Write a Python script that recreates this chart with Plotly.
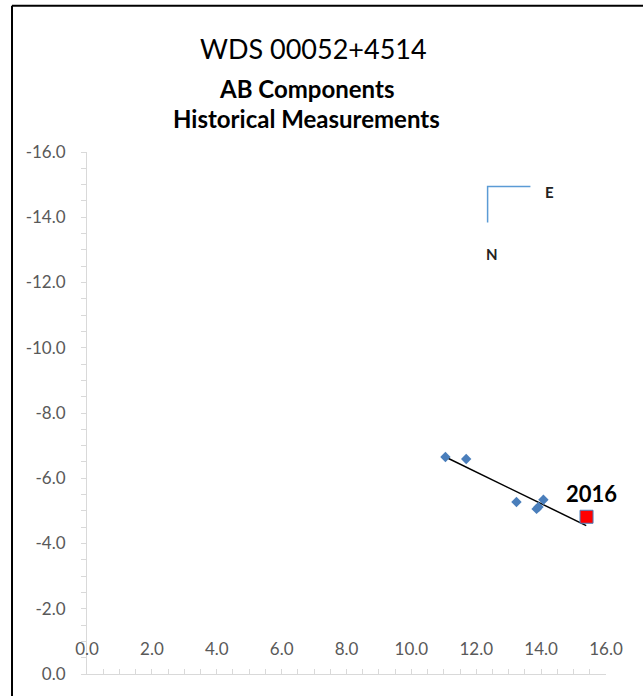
import plotly.graph_objects as go

# Historical measurements (AB components)
hist_x = [11.05, 11.69, 13.24, 13.86, 13.92, 14.07]
hist_y = [-6.65, -6.59, -5.27, -5.06, -5.12, -5.34]

# 2016 measurement
m2016_x = [15.40]
m2016_y = [-4.82]
m2016_label = "2016"

# Trend line endpoints
trend_x = [11.05, 15.39]
trend_y = [-6.65, -4.55]

# Compass (N / E indicator)
compass_x = [13.67, 12.35, 12.35]
compass_y = [-14.94, -14.94, -13.84]
e_pos = (14.26, -14.76)
n_pos = (12.50, -12.87)

x_tick_vals = [0, 2, 4, 6, 8, 10, 12, 14, 16]
x_tick_text = ["0.0", "2.0", "4.0", "6.0", "8.0", "10.0", "12.0", "14.0", "16.0"]
y_tick_vals = [0, -2, -4, -6, -8, -10, -12, -14, -16]
y_tick_text = ["0.0", "-2.0", "-4.0", "-6.0", "-8.0", "-10.0", "-12.0", "-14.0", "-16.0"]

title_main = "WDS 00052+4514"
title_sub1 = "AB Components"
title_sub2 = "Historical Measurements"

FONT = "Lato"
AXIS_COL = "#d9d9d9"
TICK_FONT_COL = "#595959"

fig = go.Figure()

fig.add_trace(go.Scatter(x=trend_x, y=trend_y, mode="lines",
                         line=dict(color="black", width=1.5), showlegend=False, hoverinfo="skip"))
fig.add_trace(go.Scatter(x=hist_x, y=hist_y, mode="markers",
                         marker=dict(symbol="diamond", size=8, color="#4A7EBB"), showlegend=False))
fig.add_trace(go.Scatter(x=m2016_x, y=m2016_y, mode="markers",
                         marker=dict(symbol="square", size=13, color="#FF0000",
                                     line=dict(color="#4A7EBB", width=1)), showlegend=False))
fig.add_trace(go.Scatter(x=compass_x, y=compass_y, mode="lines",
                         line=dict(color="#5B9BD5", width=1.5), showlegend=False))

fig.add_annotation(x=m2016_x[0], y=m2016_y[0], text="<b>" + m2016_label + "</b>", showarrow=False,
                   xanchor="center", yanchor="bottom", yshift=8, xshift=5,
                   font=dict(family=FONT, size=22, color="black"))
fig.add_annotation(x=e_pos[0], y=e_pos[1], text="<b>E</b>", showarrow=False,
                   font=dict(family=FONT, size=15, color="#222"))
fig.add_annotation(x=n_pos[0], y=n_pos[1], text="<b>N</b>", showarrow=False,
                   font=dict(family=FONT, size=15, color="#222"))

# Titles
fig.add_annotation(xref="paper", yref="paper", x=0.437, y=1.198, text=title_main, showarrow=False,
                   xanchor="center", yanchor="middle", font=dict(family=FONT, size=27, color="black"))
fig.add_annotation(xref="paper", yref="paper", x=0.422, y=1.122, text="<b>" + title_sub1 + "</b>",
                   showarrow=False, xanchor="center", yanchor="middle",
                   font=dict(family=FONT, size=24, color="black"))
fig.add_annotation(xref="paper", yref="paper", x=0.422, y=1.065, text="<b>" + title_sub2 + "</b>",
                   showarrow=False, xanchor="center", yanchor="middle",
                   font=dict(family=FONT, size=24, color="black"))

# Chart border (only left and top edges are visible in the frame)
fig.add_shape(type="line", xref="paper", yref="paper", x0=-0.1445, x1=-0.1445, y0=-0.5, y1=1.28,
              line=dict(color="black", width=2), layer="above")
fig.add_shape(type="line", xref="paper", yref="paper", x0=-0.1445, x1=1.5, y0=1.28, y1=1.28,
              line=dict(color="black", width=2), layer="above")

fig.update_xaxes(range=[0, 16], tickvals=x_tick_vals, ticktext=x_tick_text,
                 showline=True, linecolor=AXIS_COL, linewidth=1,
                 ticks="inside", ticklen=5, tickcolor=AXIS_COL,
                 minor=dict(dtick=0.5, ticks="inside", ticklen=5, tickcolor=AXIS_COL),
                 ticklabelposition="inside", ticklabelstandoff=11, ticklabeloverflow="allow",
                 showgrid=False, zeroline=False,
                 tickfont=dict(family=FONT, size=17, color=TICK_FONT_COL))
fig.update_yaxes(range=[0, -16], tickvals=y_tick_vals, ticktext=y_tick_text,
                 showline=True, linecolor=AXIS_COL, linewidth=1,
                 ticks="outside", ticklen=5, tickcolor=AXIS_COL,
                 minor=dict(dtick=0.5, ticks="outside", ticklen=5, tickcolor=AXIS_COL),
                 ticklabelstandoff=12, ticklabeloverflow="allow",
                 showgrid=False, zeroline=False,
                 tickfont=dict(family=FONT, size=17, color=TICK_FONT_COL))

fig.update_layout(width=643, height=696, margin=dict(l=87, r=37, t=152, b=19),
                  paper_bgcolor="white", plot_bgcolor="white", showlegend=False)

fig.write_html("out.html", config={"displayModeBar": False},
               post_script="document.body.style.margin='0px';"
                           "document.body.style.overflow='hidden';"
                           "document.documentElement.style.overflow='hidden';")
